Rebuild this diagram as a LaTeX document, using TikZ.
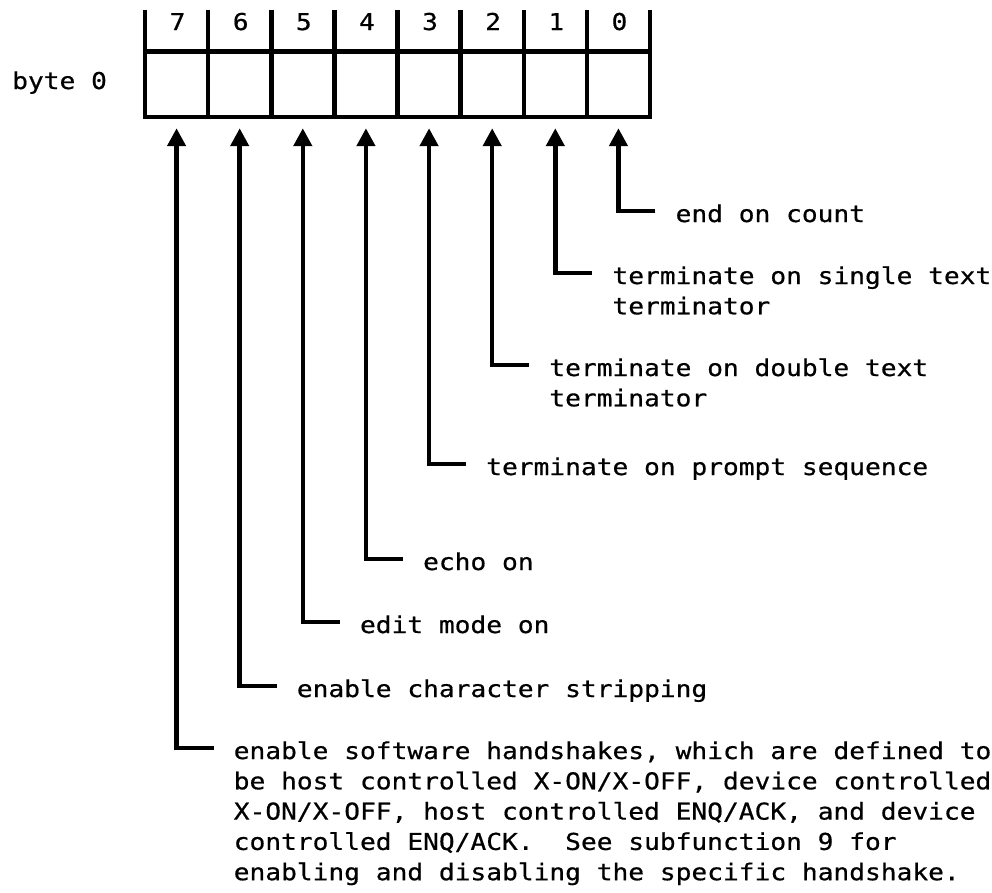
\documentclass[tikz,border=0pt]{standalone}
\usepackage{fontspec}
\setmainfont[FakeStretch=1.13,FakeBold=0.6]{DejaVu Sans Mono}
\usetikzlibrary{arrows.meta}

\begin{document}
\begin{tikzpicture}[x=1pt,y=-1pt,
  font=\fontsize{23.2}{30.3}\selectfont,
  rule/.style={line width=4.5pt, line cap=rect},
  cell/.style={rectangle, inner sep=0pt, minimum width=63.125pt, minimum height=65.5pt},
  digit/.style={anchor=base, inner sep=0pt},
  bitarrow/.style={line width=4.5pt, -{Triangle[length=18pt,width=18pt]}, shorten >=11pt},
  bitlabel/.style={anchor=base west, inner sep=0pt}
]
\useasboundingbox (0,0) rectangle (992,892);

% register: header row with bit numbers, one row of cells
\draw[rule] (145,51.5) -- (650,51.5);
\draw[rule] (145,117) -- (650,117);
\foreach \i in {0,...,8}
  \draw[rule] ({145+\i*63.125},12) -- ({145+\i*63.125},117);

\foreach \b in {0,...,7} {
  \pgfmathsetmacro\xc{145+(7.5-\b)*63.125}
  \node[cell] (c\b) at (\xc,84.25) {};
  \node[digit] (n\b) at (\xc+1,30) {\b};
}

\node[anchor=base west, inner sep=0pt] (byte) at (12,89) {byte 0};

% one bent arrow and description per bit; the text hangs from its first baseline
\foreach \b/\y/\txt in {
  0/211/{end on count},
  1/273/{terminate on single text\\terminator},
  2/365/{terminate on double text\\terminator},
  3/464/{terminate on prompt sequence},
  4/559/{echo on},
  5/622/{edit mode on},
  6/686/{enable character stripping},
  7/748/{enable software handshakes, which are defined to\\be host controlled X-ON/X-OFF, device controlled\\X-ON/X-OFF, host controlled ENQ/ACK, and device\\controlled ENQ/ACK.\ \ See subfunction 9 for\\enabling and disabling the specific handshake.}} {
  \pgfmathsetmacro\xc{145+(7.5-\b)*63.125}
  \coordinate (h\b) at (\xc+37,\y);
  \node[bitlabel] (t\b) at (\xc+57,\y+11) {\begin{tabular}[t]{@{}l@{}}\txt\end{tabular}};
  \draw[bitarrow] (h\b) -| (c\b.south);
}
\end{tikzpicture}
\end{document}
